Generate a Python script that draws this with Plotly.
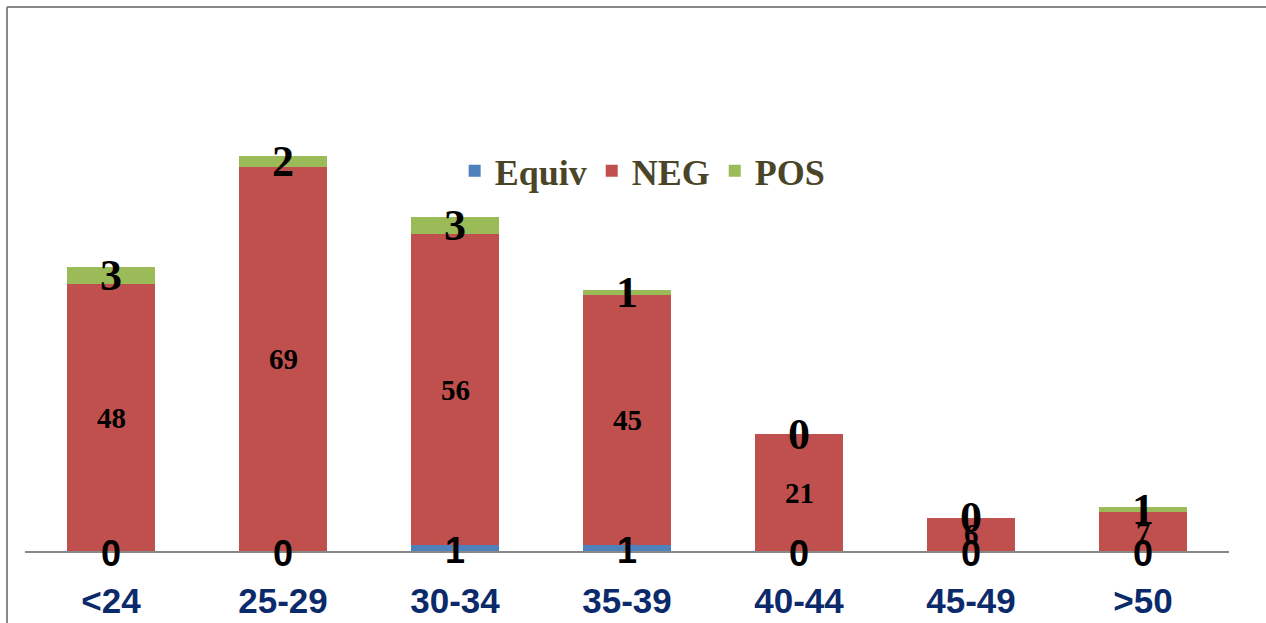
import plotly.graph_objects as go

# Age groups and result counts
age_groups = ["<24", "25-29", "30-34", "35-39", "40-44", "45-49", ">50"]
equiv = [0, 0, 1, 1, 0, 0, 0]
neg = [48, 69, 56, 45, 21, 6, 7]
pos = [3, 2, 3, 1, 0, 0, 1]

colors = {"Equiv": "#4F81BD", "NEG": "#C0504D", "POS": "#9BBB59"}

fig = go.Figure()
for name, vals in (("Equiv", equiv), ("NEG", neg), ("POS", pos)):
    fig.add_bar(name=f"<b>{name}</b>", x=age_groups, y=vals, marker_color=colors[name],
                marker_line_width=0, width=0.51)

# Value labels centred on each segment
annotations = []
for i, cat in enumerate(age_groups):
    e, n, p = equiv[i], neg[i], pos[i]
    annotations.append(dict(x=cat, y=e / 2, text=f"<b>{e}</b>", showarrow=False,
                            font=dict(family="Liberation Sans", size=36, color="black"),
                            yanchor="middle", yshift=-2))
    annotations.append(dict(x=cat, y=e + n / 2, text=f"<b>{n}</b>", showarrow=False,
                            font=dict(family="Liberation Serif", size=29, color="black"),
                            yanchor="middle"))
    annotations.append(dict(x=cat, y=e + n + p / 2, text=f"<b>{p}</b>", showarrow=False,
                            font=dict(family="Liberation Serif", size=44, color="black"),
                            yanchor="middle"))

W, H = 1266, 623
left, right, top, bottom = 25, 37, 115, 72
pw, ph = W - left - right, H - top - bottom

fig.update_layout(
    width=W, height=H,
    barmode="stack",
    bargap=0.0,
    margin=dict(l=left, r=right, t=top, b=bottom, autoexpand=False),
    paper_bgcolor="white",
    plot_bgcolor="white",
    showlegend=True,
    legend=dict(orientation="h", x=0.513, y=0.872, xanchor="center", yanchor="middle",
                font=dict(family="Liberation Serif", size=36, color="#4A4529"),
                bgcolor="rgba(0,0,0,0)", itemwidth=30, traceorder="normal"),
    annotations=annotations,
    xaxis=dict(showline=True, linecolor="#888888", linewidth=2, ticks="",
               tickfont=dict(family="Liberation Sans", size=35, color="#0B2A6B"),
               ticklabelstandoff=18, showgrid=False, fixedrange=True, automargin=False,
               tickprefix="<b>", ticksuffix="</b>"),
    yaxis=dict(range=[0, 78.4], showgrid=False, showline=False, showticklabels=False,
               zeroline=False, ticks="", fixedrange=True, automargin=False),
    shapes=[
        dict(type="line", xref="paper", yref="paper", layer="above",
             x0=-(left - 7) / pw, x1=(W - left) / pw,
             y0=(H - bottom - 7) / ph, y1=(H - bottom - 7) / ph,
             line=dict(color="#888888", width=2)),
        dict(type="line", xref="paper", yref="paper", layer="above",
             x0=-(left - 7) / pw, x1=-(left - 7) / pw,
             y0=-bottom / ph, y1=(H - bottom - 7) / ph,
             line=dict(color="#888888", width=2)),
    ],
)

fig.write_html("out.html")
